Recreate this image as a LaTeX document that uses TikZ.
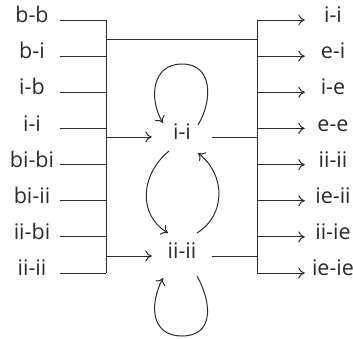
\documentclass[tikz,border=0pt]{standalone}
\usepackage{fontspec}
\setmainfont{Open Sans}
\usetikzlibrary{arrows.meta}
\definecolor{ink}{HTML}{2B2B2B}
\tikzset{
  every node/.style={text=ink, font=\fontsize{21.5}{26}\selectfont},
  wire/.style={draw=ink, line width=1pt},
  arr/.style={wire, -{To[length=6.5pt,width=11pt]}},
  lbl/.style={inner sep=0pt, minimum width=56pt, text height=1.5ex, text depth=0.5ex, align=center},
  rlbl/.style={inner sep=0pt, minimum width=56pt, text height=1.5ex, text depth=0.5ex, align=center},
  state/.style={inner sep=0pt, minimum width=60pt, text height=1.5ex, text depth=0.5ex},
}
\begin{document}
\begin{tikzpicture}[x=1pt,y=-1pt]
\useasboundingbox (0,0) rectangle (353,338);
% left labels (east edge at x=60)
\node[lbl] (L1) at (32,20) {b-b};
\node[lbl] (L2) at (32,56.1) {b-i};
\node[lbl] (L3) at (32,92.3) {i-b};
\node[lbl] (L4) at (32,128.4) {i-i};
\node[lbl] (L5) at (32,164.6) {bi-bi};
\node[lbl] (L6) at (32,200.7) {bi-ii};
\node[lbl] (L7) at (32,236.9) {ii-bi};
\node[lbl] (L8) at (32,273) {ii-ii};
% right labels (west edge at x=305)
\node[rlbl] (R1) at (333,20) {i-i};
\node[rlbl] (R2) at (333,56.1) {e-i};
\node[rlbl] (R3) at (333,92.3) {i-e};
\node[rlbl] (R4) at (333,128.4) {e-e};
\node[rlbl] (R5) at (333,164.6) {ii-ii};
\node[rlbl] (R6) at (333,200.7) {ie-ii};
\node[rlbl] (R7) at (333,236.9) {ii-ie};
\node[rlbl] (R8) at (333,273) {ie-ie};
% states
\node[state] (S1) at (182,137) {i-i};
\node[state] (S2) at (182,256) {ii-ii};
% buses
\coordinate (BL) at (106,0);
\coordinate (BR) at (257,0);
\coordinate (T) at (0,39);
\foreach \i in {1,...,8}{
  \draw[wire] (L\i.east) -- (L\i.east -| BL);
  \draw[arr] (R\i.west -| BR) -- (R\i.west);
}
\draw[wire] (L1.east -| BL) -- (L8.east -| BL);
\draw[wire] (R1.west -| BR) -- (R8.west -| BR);
\draw[wire] (T -| BL) -- (T -| BR);
\draw[arr] (S1.west -| BL) -- (S1.west);
\draw[arr] (S2.west -| BL) -- (S2.west);
\draw[wire] (S1.east) -- (S1.east -| BR);
\draw[wire] (S2.east) -- (S2.east -| BR);
% loops
\coordinate (a1) at (198,125);
\coordinate (a2) at (163,123);
\draw[arr] (a1) .. controls (213,100) and (213,64) .. (182,64)
  .. controls (151,64) and (149,100) .. (a2);
\coordinate (b1) at (169,151);
\coordinate (b2) at (168,233);
\draw[arr] (b1) .. controls (140,175) and (138,215) .. (b2);
\coordinate (c1) at (197,233);
\coordinate (c2) at (198,153);
\draw[arr] (c1) .. controls (226,215) and (226,175) .. (c2);
\coordinate (d1) at (197,276);
\coordinate (d2) at (163,278);
\draw[arr] (d1) .. controls (213,305) and (213,336) .. (182,336)
  .. controls (151,336) and (149,305) .. (d2);
\end{tikzpicture}
\end{document}
